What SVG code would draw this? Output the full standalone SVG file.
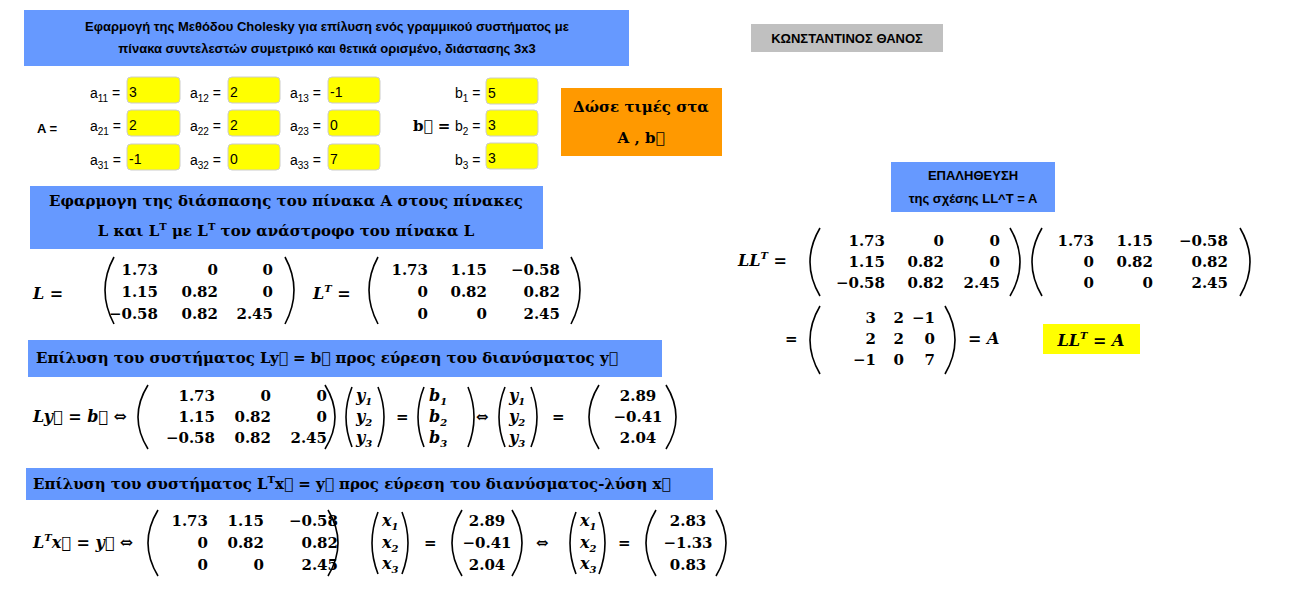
<svg xmlns="http://www.w3.org/2000/svg" width="1298" height="609" viewBox="0 0 1298 609">
<style>
.bl{fill:#6699ff}
.s{font-family:"Liberation Sans",Arial,sans-serif;font-size:13px;font-weight:bold}
.lab{font-family:"Liberation Sans",Arial,sans-serif;font-size:14px}
.sub{font-size:10px}
.yb{fill:#ffff00;stroke:#cccccc;stroke-width:1}
.t{font-family:"DejaVu Serif","Liberation Serif",serif;font-size:15px;font-weight:bold}
.m{font-family:"DejaVu Serif","Liberation Serif",serif;font-size:15px;font-weight:bold}
.i{font-family:"DejaVu Serif","Liberation Serif",serif;font-size:16px;font-weight:bold;font-style:italic}
.r{text-anchor:end}
.c{text-anchor:middle}
.p{fill:none;stroke:#000;stroke-width:1.6}
</style>
<rect width="1298" height="609" fill="#fff"/>
<g id="title"><rect class="bl" x="24" y="10" width="605" height="56"/>
<text class="s c" x="327" y="31">Εφαρμογή της Μεθόδου Cholesky για επίλυση ενός γραμμικού συστήματος με</text>
<text class="s c" x="327" y="53">πίνακα συντελεστών συμετρικό και θετικά ορισμένο, διάστασης 3x3</text></g>
<g id="author"><rect x="751" y="24" width="192" height="28" fill="#c0c0c0"/><text class="s c" x="847" y="43">ΚΩΝΣΤΑΝΤΙΝΟΣ ΘΑΝΟΣ</text></g>
<g id="inputs">
<text class="s" x="37" y="133" font-size="14">A =</text>
<g class="lab">
<text x="90" y="98">a<tspan class="sub" dy="4">11</tspan><tspan dy="-4"> =</tspan></text>
<text x="190" y="98">a<tspan class="sub" dy="4">12</tspan><tspan dy="-4"> =</tspan></text>
<text x="290" y="98">a<tspan class="sub" dy="4">13</tspan><tspan dy="-4"> =</tspan></text>
<text x="90" y="131">a<tspan class="sub" dy="4">21</tspan><tspan dy="-4"> =</tspan></text>
<text x="190" y="131">a<tspan class="sub" dy="4">22</tspan><tspan dy="-4"> =</tspan></text>
<text x="290" y="131">a<tspan class="sub" dy="4">23</tspan><tspan dy="-4"> =</tspan></text>
<text x="90" y="165">a<tspan class="sub" dy="4">31</tspan><tspan dy="-4"> =</tspan></text>
<text x="190" y="165">a<tspan class="sub" dy="4">32</tspan><tspan dy="-4"> =</tspan></text>
<text x="290" y="165">a<tspan class="sub" dy="4">33</tspan><tspan dy="-4"> =</tspan></text>
<text x="455" y="98">b<tspan class="sub" dy="4">1</tspan><tspan dy="-4"> =</tspan></text>
<text x="455" y="131">b<tspan class="sub" dy="4">2</tspan><tspan dy="-4"> =</tspan></text>
<text x="455" y="165">b<tspan class="sub" dy="4">3</tspan><tspan dy="-4"> =</tspan></text>
</g>
<rect class="yb" x="127" y="77" width="53" height="26" rx="4"/><rect class="yb" x="228" y="77" width="52" height="26" rx="4"/><rect class="yb" x="328" y="77" width="52" height="26" rx="4"/>
<rect class="yb" x="127" y="110" width="53" height="26" rx="4"/><rect class="yb" x="228" y="110" width="52" height="26" rx="4"/><rect class="yb" x="328" y="110" width="52" height="26" rx="4"/>
<rect class="yb" x="127" y="144" width="53" height="26" rx="4"/><rect class="yb" x="228" y="144" width="52" height="26" rx="4"/><rect class="yb" x="328" y="144" width="52" height="26" rx="4"/>
<rect class="yb" x="486" y="78" width="52" height="26" rx="4"/><rect class="yb" x="486" y="110" width="52" height="26" rx="4"/><rect class="yb" x="486" y="143" width="52" height="26" rx="4"/>
<g class="lab">
<text x="129" y="97">3</text><text x="230" y="97">2</text><text x="330" y="97">-1</text>
<text x="129" y="130">2</text><text x="230" y="130">2</text><text x="330" y="130">0</text>
<text x="129" y="164">-1</text><text x="230" y="164">0</text><text x="330" y="164">7</text>
<text x="488" y="98">5</text><text x="488" y="130">3</text><text x="488" y="163">3</text>
</g>
<text class="m" x="413" y="131" font-weight="normal" font-size="18">b⃗ =</text>
</g>
<g id="give"><rect x="561" y="88" width="161" height="68" fill="#ff9900"/>
<text class="t c" x="641" y="112">Δώσε τιμές στα</text><text class="t c" x="641" y="143">A , b⃗</text></g>
<g id="box2"><rect class="bl" x="30" y="186" width="513" height="63"/>
<text class="t c" x="286" y="206">Εφαρμογη της διάσπασης του πίνακα A στους πίνακες</text>
<text class="t c" x="286" y="236">L και L<tspan font-size="10" dy="-6">T</tspan><tspan dy="6"> με L</tspan><tspan font-size="10" dy="-6">T</tspan><tspan dy="6"> τον ανάστροφο του πίνακα L</tspan></text></g>
<g id="Lmat">
<text class="i" x="33" y="299">L =</text>
<path class="p" d="M114,257 Q96,290 114,324"/><path class="p" d="M285,257 Q303,290 285,324"/>
<g class="m r"><text x="158" y="275">1.73</text><text x="218" y="275">0</text><text x="273" y="275">0</text>
<text x="158" y="297">1.15</text><text x="218" y="297">0.82</text><text x="273" y="297">0</text>
<text x="158" y="319">−0.58</text><text x="218" y="319">0.82</text><text x="273" y="319">2.45</text></g>
<text class="i" x="313" y="299">L<tspan font-size="10" dy="-7">T</tspan><tspan dy="7"> =</tspan></text>
<path class="p" d="M378,257 Q360,290 378,324"/><path class="p" d="M571,257 Q589,290 571,324"/>
<g class="m r"><text x="428" y="275">1.73</text><text x="487" y="275">1.15</text><text x="560" y="275">−0.58</text>
<text x="428" y="297">0</text><text x="487" y="297">0.82</text><text x="560" y="297">0.82</text>
<text x="428" y="319">0</text><text x="487" y="319">0</text><text x="560" y="319">2.45</text></g>
</g>
<g id="box3"><rect class="bl" x="28" y="340" width="634" height="37"/>
<text class="t" x="36" y="363">Επίλυση του συστήματος Ly⃗  =  b⃗ προς εύρεση του διανύσματος y⃗</text></g>
<g id="sys1">
<text class="i" x="33" y="422">Ly⃗ = b⃗ ⇔</text>
<path class="p" d="M148,385 Q128,417 148,449"/><path class="p" d="M325,385 Q345,417 325,449"/>
<g class="m r"><text x="215" y="401">1.73</text><text x="271" y="401">0</text><text x="327" y="401">0</text>
<text x="215" y="422">1.15</text><text x="271" y="422">0.82</text><text x="327" y="422">0</text>
<text x="215" y="443">−0.58</text><text x="271" y="443">0.82</text><text x="327" y="443">2.45</text></g>
<path class="p" d="M352,387 Q340,417 352,447"/><path class="p" d="M378,387 Q390,417 378,447"/>
<g class="i" font-size="15"><text x="356" y="401">y<tspan font-size="10" dy="4">1</tspan></text><text x="356" y="422">y<tspan font-size="10" dy="4">2</tspan></text><text x="356" y="443">y<tspan font-size="10" dy="4">3</tspan></text></g>
<text class="m" x="396" y="422">=</text>
<path class="p" d="M424,387 Q412,417 424,447"/><path class="p" d="M468,387 Q480,417 468,447"/>
<g class="i" font-size="15"><text x="429" y="401">b<tspan font-size="10" dy="4">1</tspan></text><text x="429" y="422">b<tspan font-size="10" dy="4">2</tspan></text><text x="429" y="443">b<tspan font-size="10" dy="4">3</tspan></text></g>
<text class="m" x="476" y="422">⇔</text>
<path class="p" d="M505,387 Q493,417 505,447"/><path class="p" d="M531,387 Q543,417 531,447"/>
<g class="i" font-size="15"><text x="509" y="401">y<tspan font-size="10" dy="4">1</tspan></text><text x="509" y="422">y<tspan font-size="10" dy="4">2</tspan></text><text x="509" y="443">y<tspan font-size="10" dy="4">3</tspan></text></g>
<text class="m" x="552" y="422">=</text>
<path class="p" d="M599,385 Q579,417 599,449"/><path class="p" d="M666,385 Q686,417 666,449"/>
<g class="m c"><text x="638" y="401">2.89</text><text x="638" y="422">−0.41</text><text x="638" y="443">2.04</text></g>
</g>
<g id="box4"><rect class="bl" x="26" y="468" width="687" height="32"/>
<text class="t" x="33" y="489">Επίλυση του συστήματος L<tspan font-size="10" dy="-6">T</tspan><tspan dy="6">x⃗  =  y⃗ προς εύρεση του διανύσματος-λύση x⃗</tspan></text></g>
<g id="sys2">
<text class="i" x="33" y="548">L<tspan font-size="10" dy="-7">T</tspan><tspan dy="7">x⃗ = y⃗ ⇔</tspan></text>
<path class="p" d="M158,510 Q138,543 158,576"/><path class="p" d="M328,510 Q348,543 328,576"/>
<g class="m r"><text x="208" y="526">1.73</text><text x="264" y="526">1.15</text><text x="338" y="526">−0.58</text>
<text x="208" y="548">0</text><text x="264" y="548">0.82</text><text x="338" y="548">0.82</text>
<text x="208" y="570">0</text><text x="264" y="570">0</text><text x="338" y="570">2.45</text></g>
<path class="p" d="M378,512 Q366,543 378,574"/><path class="p" d="M402,512 Q414,543 402,574"/>
<g class="i" font-size="15"><text x="382" y="526">x<tspan font-size="10" dy="4">1</tspan></text><text x="382" y="548">x<tspan font-size="10" dy="4">2</tspan></text><text x="382" y="569">x<tspan font-size="10" dy="4">3</tspan></text></g>
<text class="m" x="424" y="548">=</text>
<path class="p" d="M462,510 Q442,543 462,576"/><path class="p" d="M512,510 Q532,543 512,576"/>
<g class="m c"><text x="487" y="526">2.89</text><text x="487" y="548">−0.41</text><text x="487" y="570">2.04</text></g>
<text class="m" x="536" y="548">⇔</text>
<path class="p" d="M576,512 Q564,543 576,574"/><path class="p" d="M599,512 Q611,543 599,574"/>
<g class="i" font-size="15"><text x="580" y="526">x<tspan font-size="10" dy="4">1</tspan></text><text x="580" y="548">x<tspan font-size="10" dy="4">2</tspan></text><text x="580" y="569">x<tspan font-size="10" dy="4">3</tspan></text></g>
<text class="m" x="618" y="548">=</text>
<path class="p" d="M656,510 Q636,543 656,576"/><path class="p" d="M716,510 Q736,543 716,576"/>
<g class="m c"><text x="688" y="526">2.83</text><text x="688" y="548">−1.33</text><text x="688" y="570">0.83</text></g>
</g>
<g id="verify"><rect class="bl" x="891" y="162" width="164" height="50"/>
<text class="s c" x="973" y="180" font-size="12">ΕΠΑΛΗΘΕΥΣΗ</text><text class="s c" x="973" y="203" font-size="12">της σχέσης LL^T = A</text></g>
<g id="check">
<text class="i" x="738" y="266">LL<tspan font-size="10" dy="-7">T</tspan><tspan dy="7"> =</tspan></text>
<path class="p" d="M820,228 Q800,262 820,296"/><path class="p" d="M1010,228 Q1030,262 1010,296"/>
<g class="m r"><text x="885" y="246">1.73</text><text x="944" y="246">0</text><text x="1000" y="246">0</text>
<text x="885" y="267">1.15</text><text x="944" y="267">0.82</text><text x="1000" y="267">0</text>
<text x="885" y="288">−0.58</text><text x="944" y="288">0.82</text><text x="1000" y="288">2.45</text></g>
<path class="p" d="M1042,228 Q1022,262 1042,296"/><path class="p" d="M1240,228 Q1260,262 1240,296"/>
<g class="m r"><text x="1094" y="246">1.73</text><text x="1153" y="246">1.15</text><text x="1228" y="246">−0.58</text>
<text x="1094" y="267">0</text><text x="1153" y="267">0.82</text><text x="1228" y="267">0.82</text>
<text x="1094" y="288">0</text><text x="1153" y="288">0</text><text x="1228" y="288">2.45</text></g>
<text class="m" x="785" y="344">=</text>
<path class="p" d="M820,306 Q800,340 820,374"/><path class="p" d="M945,306 Q965,340 945,374"/>
<g class="m r"><text x="876" y="323">3</text><text x="904" y="323">2</text><text x="935" y="323">−1</text>
<text x="876" y="344">2</text><text x="904" y="344">2</text><text x="935" y="344">0</text>
<text x="876" y="365">−1</text><text x="904" y="365">0</text><text x="935" y="365">7</text></g>
<text class="i" x="968" y="344">= A</text>
<rect x="1043" y="324" width="97" height="30" fill="#ffff00"/>
<text class="i" x="1091" y="346" text-anchor="middle">LL<tspan font-size="10" dy="-7">T</tspan><tspan dy="7"> = A</tspan></text>
</g>
</svg>
